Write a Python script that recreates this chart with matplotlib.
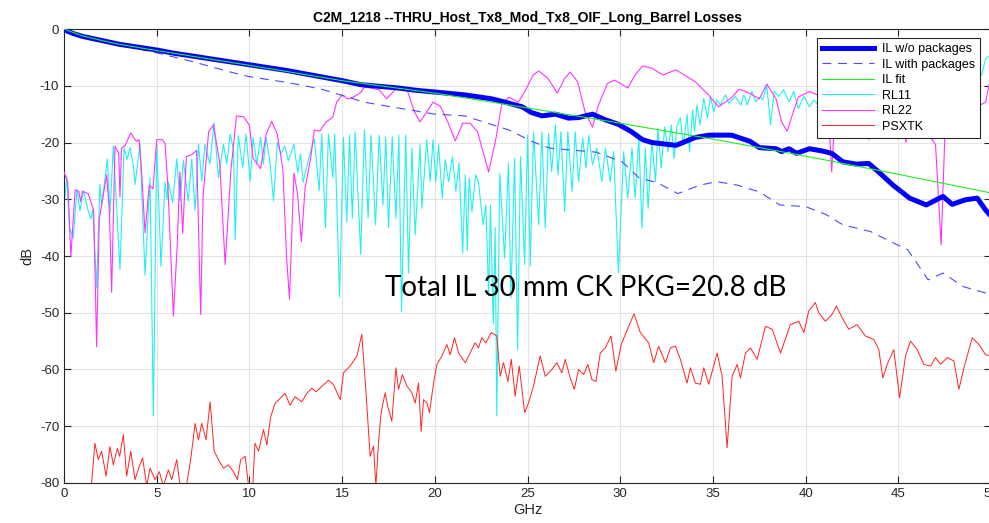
import matplotlib
matplotlib.use("Agg")
import matplotlib.pyplot as plt

# IL w/o packages (thick blue)
il_f = [0, 0.2, 0.5, 1, 2, 3, 4, 5, 6, 7, 8, 9, 10, 11, 12, 13, 14, 15, 16, 17, 18.04,
        19, 20, 21.6, 23.07, 23.8, 24.7, 25.2, 25.77, 26.5, 27.2, 27.75, 28.5, 29.2, 29.9,
        30.6, 31.2, 31.7, 33.0, 34.05, 34.8, 36.0, 37.0, 37.5, 38.4, 38.7, 39.1, 39.5, 40.2,
        40.9, 41.4, 42.0, 42.7, 43.4, 43.9, 44.7, 45.6, 46.5, 47.4, 47.9, 48.6, 49.25, 49.7, 50]
il_db = [0, -0.4, -0.8, -1.3, -2.0, -2.7, -3.2, -3.7, -4.3, -4.8, -5.3, -5.8, -6.3, -6.8,
         -7.3, -7.9, -8.5, -9.1, -9.8, -10.1, -10.4, -10.8, -11.1, -11.6, -12.3, -12.9, -13.7,
         -14.7, -15.3, -15.0, -15.7, -15.6, -15.0, -16.0, -16.8, -18.1, -19.5, -20.0, -20.5,
         -19.1, -18.7, -18.7, -19.8, -20.9, -21.1, -21.6, -21.1, -21.9, -21.1, -21.5, -21.9,
         -23.4, -23.8, -23.7, -25.1, -27.5, -29.8, -31.0, -29.5, -30.9, -30.1, -29.8, -31.9, -33.0]

# IL with packages (dashed)
ilp_f = [0, 1, 2, 3, 4, 5, 6, 7, 8, 9, 10, 11, 12, 13, 14, 15, 16.2, 18, 20, 21.6, 24,
         25.3, 26.2, 28.7, 30.1, 31, 32, 33.1, 34.3, 35.2, 36.3, 37.5, 38.6, 40, 41.1, 42,
         43.5, 44.6, 45.5, 46.6, 47.4, 48.5, 50]
ilp_db = [0, -1.3, -2.1, -2.8, -3.5, -4.2, -5.0, -5.8, -6.7, -7.6, -8.4, -8.9, -9.4, -10.0,
          -10.7, -11.7, -12.9, -13.9, -15.0, -15.3, -17.8, -19.9, -21.0, -21.7, -23.4, -26.2,
          -27.1, -29.0, -27.5, -26.9, -27.5, -28.7, -31.0, -31.3, -32.7, -34.5, -35.7, -37.5,
          -38.9, -44.2, -43.0, -45.4, -46.8]

# IL fit
fit_f = [0, 0.5, 1, 2, 3, 5, 10, 15, 20, 25, 30, 35, 40, 45, 50]
fit_db = [0, -0.6, -1.2, -2.0, -2.7, -3.8, -6.4, -9.1, -11.3, -13.9, -16.6, -19.4, -22.4,
          -25.6, -28.9]

# RL11 (cyan)
rl11_f = [0.0, 0.15, 0.3, 0.5, 0.7, 0.86, 1.05, 1.26, 1.44, 1.55, 1.76, 1.94, 2.03, 2.34,
          2.48, 2.66, 3.02, 3.24, 3.4, 3.56, 3.74, 3.83, 4.1, 4.37, 4.64, 4.82, 5.0, 5.23,
          5.45, 5.55, 5.63, 5.86, 6.08, 6.26, 6.44, 6.7, 6.89, 7.07, 7.25, 7.43, 7.6, 7.87,
          8.09, 8.33, 8.6, 8.78, 8.96, 9.14, 9.23, 9.4, 9.64, 9.82, 10.04, 10.2, 10.4, 10.6,
          10.75, 10.9, 11.1, 11.3, 11.5, 11.7, 11.9, 12.1, 12.4, 12.6, 12.75, 12.9, 13.1, 13.4,
          13.5, 13.76, 13.9, 14.1, 14.26, 14.5, 14.6, 14.86, 15.07, 15.25, 15.4, 15.55, 15.7,
          16.0, 16.2, 16.4, 16.56, 16.8, 17.0, 17.2, 17.35, 17.5, 17.7, 17.9, 18.06, 18.2,
          18.43, 18.58, 18.76, 18.94, 19.2, 19.3, 19.56, 19.75, 19.9, 20.05, 20.2, 20.4, 20.56,
          20.74, 20.95, 21.13, 21.3, 21.5, 21.64, 21.75, 21.85, 22.0, 22.2, 22.35, 22.6, 22.75,
          22.9, 23.0, 23.15, 23.25, 23.34, 23.5, 23.76, 23.97, 24.1, 24.3, 24.46, 24.62, 24.84,
          25.0, 25.14, 25.32, 25.6, 25.77, 25.95, 26.13, 26.3, 26.5, 26.64, 26.8, 27.0, 27.17,
          27.4, 27.57, 27.75, 27.97, 28.15, 28.3, 28.5, 28.74, 29.0, 29.2, 29.46, 29.64, 29.9,
          30.18, 30.4, 30.63, 30.8, 31.0, 31.17, 31.35, 31.5, 31.7, 31.9, 32.03, 32.2, 32.4,
          32.57, 32.75, 32.9, 33.06, 33.24, 33.4, 33.6, 33.73, 33.9, 34.0, 34.14, 34.3, 34.5,
          34.7, 34.86, 35.04, 35.2, 35.4, 35.67, 35.85, 36.2, 36.5, 36.66, 36.84, 37.1, 37.3,
          37.56, 37.68, 37.9, 38.1, 38.3, 38.55, 38.8, 39.1, 39.35, 39.6, 39.9, 40.2, 40.43,
          40.7, 40.88, 41.5, 42.5, 43.5, 44.5, 45.5, 46.5, 47.5, 48.5, 49.5, 49.7, 50.0]
rl11_db = [-31.5, -25.9, -35, -36.8, -28.2, -32, -28.5, -31.5, -33.5, -31.8, -45.6, -27.4,
           -31.2, -22.9, -32.6, -20.6, -42.4, -20.9, -23, -20.9, -24.1, -27.4, -20.3, -43.4,
           -26.2, -68.2, -20.3, -41.8, -27, -30, -27, -30.6, -22.9, -30.3, -23.2, -30.3, -22.9,
           -32, -20.3, -26.8, -20.3, -23.8, -16.5, -26.2, -20.3, -23.8, -18.5, -21.2, -37.1,
           -18.8, -24.4, -18.5, -26.8, -19.1, -23.8, -19.1, -23.8, -19.1, -23.2, -30.3, -20,
           -22, -20.6, -23.2, -20.3, -25.3, -22, -27, -24.1, -20.3, -19.4, -28.5, -18.5, -35,
           -18.5, -26.2, -18.5, -47.2, -19.1, -34, -18.7, -33.3, -18.1, -39.7, -17.8, -33.3,
           -18.7, -34.5, -18.7, -31, -19, -35, -19, -33.3, -18.7, -49.8, -18.7, -43, -21, -36.3,
           -20.4, -31.6, -19.5, -26.9, -19.5, -26.9, -20.4, -29.8, -23, -26.9, -22.5, -28.6,
           -23.6, -39.5, -25.7, -39, -26.3, -32.2, -25.7, -26.9, -34.5, -31, -47, -31, -52, -35,
           -68.2, -25.4, -40.4, -23.6, -47.4, -22.8, -56.5, -22.5, -41.5, -18.7, -41.8, -18.1,
           -34.5, -18.1, -35.1, -18.4, -25.1, -16.9, -25.7, -18.1, -32.2, -18.1, -28.6, -18.1,
           -26.9, -19.2, -24.5, -18.7, -23.9, -21, -26.9, -21, -26.9, -21.6, -43, -21.6, -29.8,
           -21, -29.8, -19.2, -35.1, -21, -31.6, -19.8, -26.9, -17.5, -24.5, -17.2, -21.6,
           -16.9, -22.8, -16.9, -15.7, -20.4, -15.1, -21.6, -14.3, -18.1, -13.4, -16.9, -12.2,
           -15.7, -11.9, -14.6, -12.5, -13.4, -11.6, -13.1, -11.9, -13.4, -11.6, -13.4, -11,
           -12.8, -11.9, -12.5, -9.9, -16.9, -11, -11.9, -10.7, -12.8, -11, -14, -11.9, -13.7,
           -12.5, -13.4, -12.8, -12, -11, -12, -11, -10, -11, -9, -10, -8, -5.2, -4.6]

# RL22 (magenta)
rl22_f = [0.0, 0.2, 0.37, 0.6, 0.8, 0.9, 1.0, 1.3, 1.6, 1.76, 1.9, 2.3, 2.45, 2.57, 2.75,
          2.95, 3.02, 3.1, 3.3, 3.6, 3.9, 4.05, 4.2, 4.37, 4.6, 4.8, 5.0, 5.3, 5.45, 5.6, 5.9,
          6.1, 6.25, 6.4, 6.6, 6.9, 7.15, 7.37, 7.5, 7.8, 8.06, 8.4, 8.69, 9.0, 9.3, 9.7, 10.0,
          10.2, 10.6, 10.9, 11.2, 11.5, 11.8, 12.0, 12.16, 12.4, 12.6, 12.8, 13.0, 13.3, 13.5,
          13.8, 14.1, 14.5, 14.7, 15.0, 15.3, 15.6, 16.0, 16.2, 17.0, 17.4, 18.0, 18.5, 18.9,
          19.2, 19.9, 20.3, 20.7, 21.1, 21.5, 21.9, 22.3, 22.9, 23.3, 23.6, 24.0, 24.5, 24.9,
          25.3, 25.6, 26.1, 26.6, 27.0, 27.3, 27.7, 28.1, 28.5, 28.8, 29.3, 29.7, 30.4, 30.8,
          31.2, 31.7, 32.3, 33.0, 34.05, 34.75, 35.3, 36.0, 36.4, 36.9, 37.5, 37.9, 38.4, 38.7,
          39.0, 39.3, 39.6, 40.2, 40.9, 41.2, 41.4, 41.6, 42.5, 43.2, 43.4, 43.6, 44.5, 45.2,
          45.4, 45.6, 46.5, 47.0, 47.3, 47.5, 48.0, 48.8, 49.4, 49.7, 50.0]
rl22_db = [-25.2, -27, -40.1, -28.4, -28.6, -30.4, -28.6, -29, -31.9, -56, -33.6, -25.7,
           -32.2, -46.4, -20.7, -21.8, -29.6, -21, -20.5, -18.3, -19.8, -19.5, -26, -35.9,
           -27.5, -28.2, -19.5, -19.5, -20.2, -27.5, -50.6, -38.5, -25.2, -36, -22.5, -22.1,
           -21.4, -50.3, -29.4, -18.1, -16.9, -23.6, -41.5, -25, -15.3, -15.5, -17, -22.8,
           -24.6, -18.5, -16.3, -18.5, -24.6, -40, -47.6, -25.4, -29.2, -37.5, -28.1, -22.8,
           -17.8, -18, -16.5, -15.5, -12.9, -11.6, -12.3, -12, -11.2, -10.2, -10.7, -12.3,
           -10.2, -10.7, -14.6, -16.4, -12.9, -13.6, -16.4, -19.7, -16.6, -16.6, -18.1, -25.2,
           -19.2, -13.3, -12, -12.9, -10.7, -8.1, -7.4, -8.7, -11.3, -8.7, -7.6, -9.3, -14.6,
           -17.3, -13.6, -9.6, -9, -10.4, -8.1, -6.5, -6.9, -8.1, -7.2, -9.3, -11.6, -13.7,
           -12.1, -10.6, -11.2, -12.3, -9.7, -12.3, -16.4, -18, -14.9, -12, -11, -12, -13,
           -25.2, -13, -11, -12, -19.5, -12, -13, -14, -20, -15, -18, -20.4, -38, -19, -14,
           -10.5, -13.4, -12.9, -8]

# PSXTK (red)
xt_f = [0.0, 1.4, 1.49, 1.67, 1.85, 2.03, 2.27, 2.48, 2.66, 2.88, 3.0, 3.2, 3.38, 3.6, 3.83,
        4.06, 4.24, 4.46, 4.64, 4.91, 5.14, 5.36, 5.63, 5.81, 6.08, 6.26, 6.6, 6.83, 7.07,
        7.25, 7.43, 7.66, 7.88, 8.1, 8.33, 8.6, 8.87, 9.14, 9.35, 9.53, 9.77, 9.95, 10.18,
        10.3, 10.49, 10.76, 10.94, 11.15, 11.38, 11.65, 11.92, 12.19, 12.46, 12.82, 13.1,
        13.36, 13.6, 13.9, 14.26, 14.5, 14.9, 15.07, 15.43, 15.8, 16.06, 16.3, 16.51, 16.69,
        16.82, 16.96, 17.1, 17.32, 17.46, 17.68, 17.9, 18.04, 18.25, 18.49, 18.76, 18.94,
        19.12, 19.26, 19.39, 19.57, 19.71, 19.93, 20.11, 20.38, 20.65, 20.83, 21.06, 21.28,
        21.64, 21.9, 22.17, 22.35, 22.53, 22.75, 23.04, 23.34, 23.52, 23.7, 23.94, 24.12,
        24.33, 24.55, 24.84, 25.05, 25.32, 25.68, 25.95, 26.31, 26.58, 26.85, 27.03, 27.3,
        27.52, 27.75, 28.02, 28.25, 28.47, 28.69, 28.92, 29.19, 29.5, 29.76, 30.05, 30.45,
        30.74, 31.08, 31.53, 31.8, 32.07, 32.43, 32.7, 32.97, 33.24, 33.6, 33.78, 34.05,
        34.32, 34.5, 34.77, 35.22, 35.49, 35.76, 36.03, 36.3, 36.48, 36.75, 37.02, 37.38,
        37.83, 38.19, 38.64, 39.17, 39.62, 39.9, 40.16, 40.52, 40.7, 41.06, 41.42, 41.66,
        41.96, 42.32, 42.77, 43.22, 43.67, 43.94, 44.16, 44.39, 44.75, 45.06, 45.38, 45.65,
        46.01, 46.37, 46.73, 47.0, 47.27, 47.63, 47.99, 48.26, 48.53, 48.8, 48.98, 49.34,
        49.7, 50.0]
xt_db = [-85, -85, -80, -73, -75.9, -74.4, -78.8, -73.6, -76.8, -73.9, -75.3, -71.5, -78.8,
         -74.4, -79.4, -77.1, -75.6, -80.5, -77.4, -79.4, -78, -80.5, -77.7, -79.4, -75.9,
         -80.5, -80.5, -75.9, -69.5, -72.4, -69.5, -72.4, -65.7, -74.4, -75.9, -77.4, -76.8,
         -78, -79.4, -75.9, -75.3, -80.5, -80.5, -73, -74.4, -70.6, -73.3, -68.3, -66, -65.1,
         -64.2, -66.3, -64.8, -65.7, -64.2, -63.3, -63.9, -63, -61.9, -62.5, -65.3, -60.6,
         -59.4, -57.6, -53.8, -64.7, -75.3, -73.5, -80.5, -72.9, -67.6, -64.1, -66.5, -69.1,
         -59.7, -63.5, -60.9, -62.9, -64.1, -65.9, -62.4, -70.9, -65.3, -65.9, -67.6, -62.4,
         -59.1, -57.6, -55.6, -57.4, -54.4, -57.1, -58.8, -57.1, -55.3, -56.2, -54.4, -55.3,
         -53.5, -54.1, -61.2, -58.8, -62.1, -58.2, -64.7, -59.4, -67.6, -65.9, -62.9, -57.6,
         -61.2, -60, -58.8, -60.6, -58.2, -61.5, -63.5, -60, -60.9, -59.1, -61.8, -62.1, -57.1,
         -56.2, -54.1, -60.3, -55.6, -52.4, -50.2, -53.5, -55.3, -58.8, -55.9, -58.8, -56.2,
         -55.9, -58.2, -62.4, -59.7, -62.4, -62.6, -59.7, -62.6, -57.1, -61.2, -73.8, -61.2,
         -59.1, -61.5, -57.1, -56.2, -58.2, -52.4, -52.9, -57.1, -52.1, -51.5, -53.5, -49.7,
         -48.2, -50, -51.5, -50.3, -48.8, -50.9, -52.9, -52.1, -54.1, -54.7, -56.5, -61.5,
         -59.1, -56.5, -65, -57.6, -55, -56.5, -59.1, -59.4, -57.9, -59.1, -57.9, -58.5, -63.5,
         -59.7, -56.5, -54.4, -55.6, -57.4, -57.6]

xticks = list(range(0, 51, 5))
yticks = list(range(-80, 1, 10))

plt.rcParams['font.family'] = ['Liberation Sans', 'DejaVu Sans']
plt.rcParams['axes.unicode_minus'] = False

fig = plt.figure(figsize=(9.89, 5.23), dpi=100)
ax = fig.add_axes([0.0647, 0.0765, 0.9375, 0.868])

ax.plot(il_f, il_db, color='#0000ff', lw=3.6, label='IL w/o packages', zorder=5)
ax.plot(ilp_f, ilp_db, color='#4a4aff', lw=0.8, dashes=(8, 6), label='IL with packages', zorder=4)
ax.plot(fit_f, fit_db, color='#22ee22', lw=0.8, label='IL fit', zorder=6)
ax.plot(rl11_f, rl11_db, color='#22f0f0', lw=0.8, label='RL11', zorder=2)
ax.plot(rl22_f, rl22_db, color='#ff33ff', lw=0.8, label='RL22', zorder=3)
ax.plot(xt_f, xt_db, color='#ff2222', lw=0.7, label='PSXTK', zorder=3)

ax.set_xlim(0, 50)
ax.set_ylim(-80, 0)
ax.set_xticks(xticks)
ax.set_yticks(yticks)
ax.grid(True, color='#e3e3e3', lw=0.8)
ax.set_axisbelow(True)
ax.tick_params(direction='in', top=True, right=True, labelsize=9.5,
               colors='#262626', length=5)
for s in ax.spines.values():
    s.set_color('#262626')
    s.set_linewidth(0.8)

ax.set_xlabel('GHz', fontsize=10.5, color='#262626', labelpad=2)
ax.set_ylabel('dB', fontsize=10.5, color='#262626', labelpad=4)
ax.set_title('C2M_1218 --THRU_Host_Tx8_Mod_Tx8_OIF_Long_Barrel Losses',
             fontsize=10, fontweight='bold', pad=5)

ax.text(17.3, -45.6, 'Total IL 30 mm CK PKG=20.8 dB', fontsize=20,
        family=['Lato', 'DejaVu Sans'], va='center', ha='left', zorder=10)

leg = ax.legend(loc='upper right', bbox_to_anchor=(0.988, 0.98), fontsize=9,
                handlelength=4.2, fancybox=False, framealpha=1, edgecolor='#262626',
                borderpad=0.4, labelspacing=0.28, handletextpad=0.6, borderaxespad=0)
leg.get_frame().set_linewidth(0.8)

fig.savefig('out.png', dpi=100)
